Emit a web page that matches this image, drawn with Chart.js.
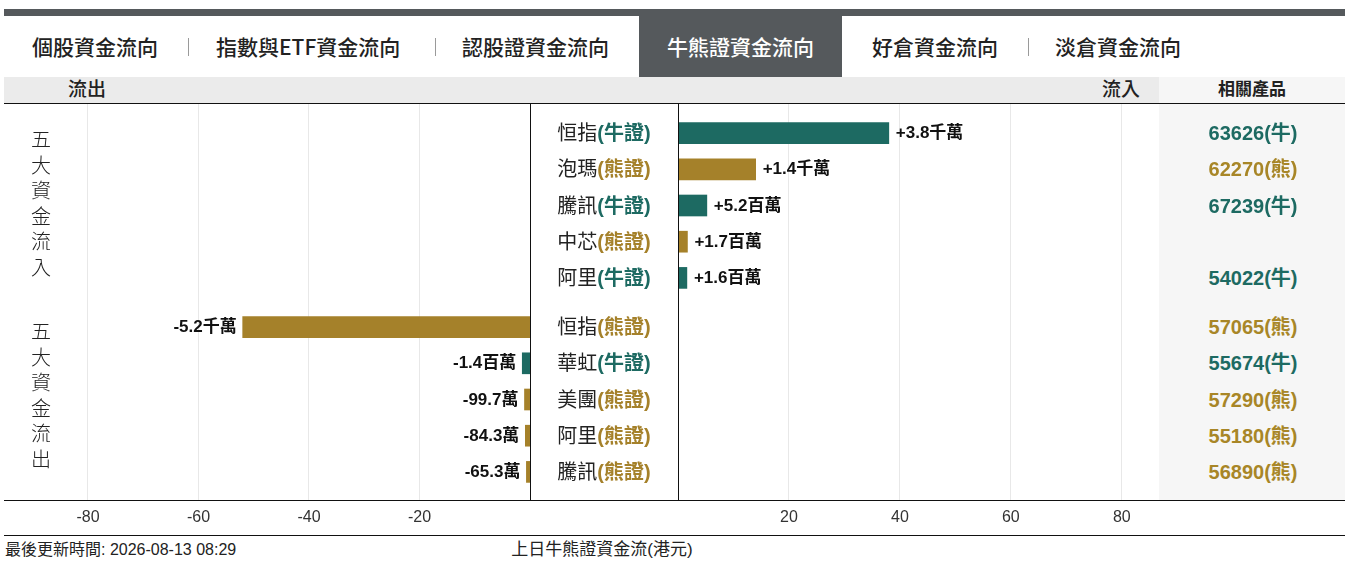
<!DOCTYPE html>
<html>
<head>
<meta charset="utf-8">
<script src="https://cdn.jsdelivr.net/npm/chart.js@4.4.1/dist/chart.umd.min.js"></script>
<style>
  body { margin:0; width:1353px; height:564px; position:relative; overflow:hidden; background:#fff;
         font-family:"Liberation Sans","Noto Sans CJK TC",sans-serif; color:#222; }
  .abs { position:absolute; }
  .tab { position:absolute; top:16px; height:61px; line-height:61px; font-size:21px; font-weight:500; color:#222; white-space:nowrap;
         font-family:"Noto Sans CJK TC",sans-serif; }
  .tab.active { background:#55595c; color:#fff; padding:0 28px; }
  .sep { position:absolute; top:38px; width:1px; height:18px; background:#9a9a9a; }
  .hline { position:absolute; left:4px; width:1341px; height:1px; background:#111; }
  .vline { position:absolute; top:103px; width:1px; height:397px; background:#111; }
  .vert { position:absolute; width:24px; font-size:20px; font-weight:300; line-height:25.5px; text-align:center; color:#222; }
  .rowname { position:absolute; left:530px; width:148px; height:26px; line-height:26px; text-align:center; font-size:20px; white-space:nowrap; }
  .rowname b { font-weight:700; }
  .val { position:absolute; height:24px; line-height:24px; font-size:17px; font-weight:700; color:#111; white-space:nowrap; }
  .prod { position:absolute; left:1159px; width:188px; height:26px; line-height:26px; text-align:center; font-size:20px; font-weight:700; white-space:nowrap; }
  canvas { position:absolute; }
</style>
</head>
<body>
<div class="abs" style="left:4px;top:9px;width:1341px;height:7px;background:#55595c"></div>
<div id="tabs"></div>
<div class="abs" style="left:4px;top:77px;width:1155px;height:26px;background:#ebebeb"></div>
<div class="abs" style="left:1159px;top:77px;width:186px;height:423px;background:#f6f6f6"></div>
<div class="abs" style="left:68px;top:77px;height:26px;line-height:26px;font-size:19px;font-weight:500">流出</div>
<div class="abs" style="left:1102px;top:77px;height:26px;line-height:26px;font-size:19px;font-weight:500">流入</div>
<div class="abs" style="left:1159px;width:186px;top:77px;height:26px;line-height:26px;font-size:17px;font-weight:700;text-align:center">相關產品</div>

<canvas id="gridL" width="526" height="433" style="left:4px;top:104px"></canvas>
<canvas id="gridR" width="481" height="433" style="left:678px;top:104px"></canvas>
<canvas id="inL" width="526" height="181" style="left:4px;top:115px"></canvas>
<canvas id="outL" width="526" height="181" style="left:4px;top:309px"></canvas>
<canvas id="inR" width="481" height="181" style="left:678px;top:115px"></canvas>
<canvas id="outR" width="481" height="181" style="left:678px;top:309px"></canvas>

<div class="abs" style="left:1159px;top:104px;width:186px;height:396px;background:#f6f6f6"></div>
<div class="hline" style="top:103px"></div>
<div class="hline" style="top:500px"></div>
<div class="hline" style="top:535px"></div>
<div class="vline" style="left:530px"></div>
<div class="vline" style="left:678px"></div>

<div class="vert" style="left:29px;top:128px">五<br>大<br>資<br>金<br>流<br>入</div>
<div class="vert" style="left:29px;top:320px">五<br>大<br>資<br>金<br>流<br>出</div>

<div class="abs" style="left:5px;top:540px;height:20px;line-height:20px;font-size:16px">最後更新時間: 2026-08-13 08:29</div>
<div class="abs" style="left:502px;width:200px;top:540px;height:20px;line-height:20px;font-size:17px;text-align:center;white-space:nowrap">上日牛熊證資金流(港元)</div>
<div id="labels"></div>

<script>
// tabs across the top
var tabNames = ['個股資金流向', '指數與ETF資金流向', '認股證資金流向', '牛熊證資金流向', '好倉資金流向', '淡倉資金流向']
var activeTab = 3

// five biggest inflows (HK$ millions)
var inNames = ['恒指', '泡瑪', '騰訊', '中芯', '阿里']
var inTypes = ['牛證', '熊證', '牛證', '熊證', '牛證']
var inValues = [38, 14, 5.2, 1.7, 1.6]
var inProducts = ['63626(牛)', '62270(熊)', '67239(牛)', '', '54022(牛)']

// five biggest outflows (HK$ millions)
var outNames = ['恒指', '華虹', '美團', '阿里', '騰訊']
var outTypes = ['熊證', '牛證', '熊證', '熊證', '熊證']
var outValues = [-52, -1.4, -0.997, -0.843, -0.653]
var outProducts = ['57065(熊)', '55674(牛)', '57290(熊)', '55180(熊)', '56890(熊)']

var leftTicks = [-80, -60, -40, -20]
var rightTicks = [20, 40, 60, 80]

var BULL = '#1d6a62', BEAR = '#a5812a'
var FONT = '"Liberation Sans","Noto Sans CJK TC",sans-serif'

function typeColor(t) { return t == '牛證' ? BULL : BEAR }

function fmtMoney(v) {
  var a = Math.abs(v), s = v < 0 ? '-' : '+'
  if (a >= 10) return s + (a / 10).toFixed(1) + '千萬'
  if (a >= 1) return s + a.toFixed(1) + '百萬'
  return s + (a * 100).toFixed(1) + '萬'
}

// tabs
var tabLeft = [32, 216, 462, 639, 872, 1055]
var sepLeft = [188, 435, 1028]
var tabsDiv = document.getElementById('tabs')
tabNames.forEach(function(n, i) {
  var d = document.createElement('div')
  d.className = 'tab' + (i == activeTab ? ' active' : '')
  d.style.left = tabLeft[i] + 'px'
  d.textContent = n
  tabsDiv.appendChild(d)
})
sepLeft.forEach(function(x) {
  var s = document.createElement('div')
  s.className = 'sep'
  s.style.left = x + 'px'
  tabsDiv.appendChild(s)
})

// background grid + axis ticks (plot area bottom lands on the y=500 rule)
function gridChart(id, min, max, ticks) {
  return new Chart(document.getElementById(id), {
    type: 'scatter',
    data: { datasets: [] },
    options: {
      responsive: false, animation: false, events: [],
      layout: { padding: 0 },
      plugins: { legend: { display: false }, tooltip: { enabled: false } },
      scales: {
        x: {
          type: 'linear', min: min, max: max,
          afterBuildTicks: function(axis) {
            axis.ticks = ticks.map(function(v) { return { value: v } })
          },
          afterFit: function(axis) { axis.height = 37 },
          grid: { color: '#e8e8e8', drawTicks: false },
          border: { display: false },
          ticks: { color: '#333', padding: 8, maxRotation: 0, font: { size: 16, family: FONT } }
        },
        y: { display: false, min: 0, max: 1 }
      }
    }
  })
}
gridChart('gridL', -95.2, 0, leftTicks)
gridChart('gridR', 0, 86.7, rightTicks)

function barChart(id, names, values, types, min, max) {
  return new Chart(document.getElementById(id), {
    type: 'bar',
    data: {
      labels: names,
      datasets: [{
        data: values,
        backgroundColor: types.map(typeColor),
        borderWidth: 0,
        barThickness: 21
      }]
    },
    options: {
      indexAxis: 'y',
      responsive: false, animation: false, events: [],
      layout: { padding: 0 },
      plugins: { legend: { display: false }, tooltip: { enabled: false } },
      scales: {
        x: { display: false, min: min, max: max },
        y: { display: false }
      }
    }
  })
}

var charts = [
  { c: barChart('inR', inNames, inValues, inTypes, 0, 86.7), left: 678, top: 115, names: inNames, types: inTypes, values: inValues, prods: inProducts },
  { c: barChart('outL', outNames, outValues, outTypes, -95.2, 0), left: 4, top: 309, names: outNames, types: outTypes, values: outValues, prods: outProducts }
]
barChart('inL', inNames, inNames.map(function() { return null }), inTypes, -95.2, 0)
barChart('outR', outNames, outNames.map(function() { return null }), outTypes, 0, 86.7)

// labels beside bars, row names, related products
var lab = document.getElementById('labels')
charts.forEach(function(o) {
  var meta = o.c.getDatasetMeta(0)
  meta.data.forEach(function(el, i) {
    var y = o.top + el.y
    var v = document.createElement('div')
    v.className = 'val'
    v.textContent = fmtMoney(o.values[i])
    v.style.top = (y - 12) + 'px'
    if (o.values[i] >= 0) {
      v.style.left = (o.left + el.x + 7) + 'px'
    } else {
      v.style.right = (1353 - (o.left + el.x - 6)) + 'px'
    }
    lab.appendChild(v)

    var n = document.createElement('div')
    n.className = 'rowname'
    n.style.top = (y - 13) + 'px'
    n.innerHTML = o.names[i] + '<b style="color:' + typeColor(o.types[i]) + '">(' + o.types[i] + ')</b>'
    lab.appendChild(n)

    if (o.prods[i]) {
      var p = document.createElement('div')
      p.className = 'prod'
      p.style.top = (y - 13) + 'px'
      p.style.color = o.prods[i].indexOf('牛') >= 0 ? BULL : '#a88627'
      p.textContent = o.prods[i]
      lab.appendChild(p)
    }
  })
})
</script>
</body>
</html>
